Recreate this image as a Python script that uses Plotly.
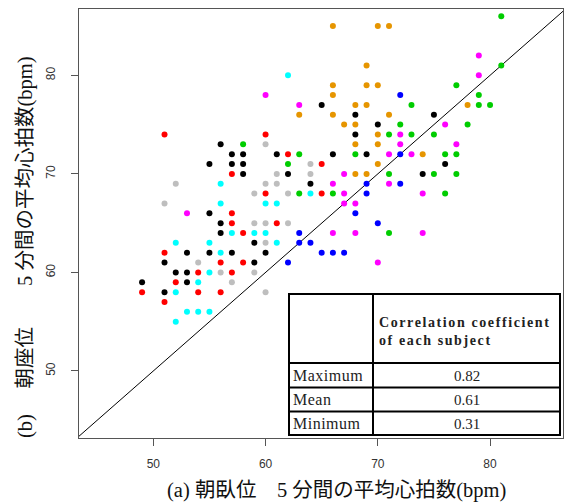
import plotly.graph_objects as go

# ---------------- data ----------------
black_x = [65, 56, 57, 58, 61, 66, 55, 57, 58, 58, 62, 64, 55, 56, 56, 59, 53, 55, 57, 60, 51, 59, 52, 53, 49, 53, 51, 68, 75, 70, 68, 69, 76, 74]
black_y = [77, 73, 72, 72, 72, 72, 71, 71, 71, 70, 70, 69, 66, 65, 64, 63, 62, 62, 62, 62, 61, 61, 60, 60, 59, 59, 58, 76, 76, 75, 74, 72, 71, 70]

red_x = [51, 60, 62, 65, 57, 60, 65, 57, 57, 61, 58, 51, 56, 58, 54, 57, 52, 49, 54, 56, 51]
red_y = [74, 74, 72, 71, 70, 68, 68, 66, 65, 65, 64, 62, 61, 61, 60, 60, 59, 58, 58, 58, 57]

green_x = [58, 63, 62, 63, 66, 81, 81, 77, 79, 73, 79, 80, 72, 78, 71, 73, 75, 68, 76, 77, 71, 75, 77, 76, 71]
green_y = [73, 72, 71, 68, 68, 86, 81, 79, 78, 77, 77, 77, 75, 75, 74, 74, 74, 72, 72, 72, 70, 70, 70, 68, 64]

gray_x = [60, 64, 61, 64, 52, 60, 61, 59, 62, 51, 59, 60, 62, 60, 54, 56, 59, 57, 60]
gray_y = [73, 71, 70, 70, 69, 69, 69, 68, 68, 67, 65, 65, 65, 63, 61, 60, 60, 59, 58]

cyan_x = [62, 56, 64, 56, 60, 61, 57, 59, 60, 52, 55, 61, 56, 55, 54, 52, 53, 54, 55, 52]
cyan_y = [80, 69, 68, 67, 67, 67, 64, 64, 64, 63, 63, 63, 62, 60, 59, 58, 56, 56, 56, 55]

magenta_x = [60, 63, 67, 66, 67, 67, 53, 66, 79, 79, 76, 72, 72, 77, 71, 73, 71, 74, 68, 68, 74, 70]
magenta_y = [78, 77, 70, 69, 68, 67, 66, 64, 82, 80, 75, 74, 73, 73, 72, 72, 69, 68, 67, 64, 64, 61]

blue_x = [63, 63, 64, 65, 66, 67, 62, 72, 72, 69, 72, 69, 68, 70]
blue_y = [64, 63, 63, 62, 62, 62, 61, 78, 72, 69, 69, 68, 66, 65]

orange_x = [66, 70, 71, 69, 66, 69, 70, 66, 63, 66, 71, 67, 68, 68, 69, 78, 70, 68, 70, 74, 70, 68, 69]
orange_y = [85, 85, 85, 81, 79, 79, 79, 78, 76, 76, 76, 75, 75, 77, 77, 77, 74, 73, 73, 72, 71, 70, 70]

x_ticks = [50, 60, 70, 80]
y_ticks = [50, 60, 70, 80]

table_rows = ["Maximum", "Mean", "Minimum"]
table_values = ["0.82", "0.61", "0.31"]
table_header = ["Correlation coefficient", "of each subject"]

x_title = "(a) 朝臥位　5 分間の平均心拍数(bpm)"
y_title = "(b)　 朝座位　　5 分間の平均心拍数(bpm)"

# ---------------- figure ----------------
W, H = 565, 504
ML, MR, MT, MB = 79, 2, 9, 66
PW, PH = W - ML - MR, H - MT - MB


def px(xp):
    return (xp - ML) / PW


def py(yp):
    return (H - MB - yp) / PH


series = [
    (gray_x, gray_y, "#BEBEBE"),
    (cyan_x, cyan_y, "#00FFFF"),
    (red_x, red_y, "#FF0000"),
    (black_x, black_y, "#000000"),
    (blue_x, blue_y, "#0000FF"),
    (magenta_x, magenta_y, "#FF00FF"),
    (green_x, green_y, "#00CD00"),
    (orange_x, orange_y, "#E69500"),
]

fig = go.Figure()
fig.add_trace(go.Scatter(x=[30, 100], y=[30, 100], mode="lines",
                         line=dict(color="black", width=1), hoverinfo="skip",
                         showlegend=False))
for xs, ys, col in series:
    fig.add_trace(go.Scatter(x=xs, y=ys, mode="markers",
                             marker=dict(color=col, size=6, line=dict(width=0)),
                             showlegend=False))

axis_common = dict(showgrid=False, zeroline=False, showline=True, mirror=True,
                   linecolor="#555555", linewidth=1, ticks="outside", ticklen=7,
                   tickcolor="#555555", tickwidth=1,
                   tickfont=dict(family="Liberation Sans, Arial", size=12, color="#333333"))

fig.update_layout(
    width=W, height=H,
    margin=dict(l=ML, r=MR, t=MT, b=MB),
    paper_bgcolor="white", plot_bgcolor="white",
    xaxis=dict(range=[43.38, 86.5], tickvals=x_ticks, ticklabelstandoff=8, **axis_common),
    yaxis=dict(range=[43.2, 86.73], tickvals=y_ticks, tickangle=-90,
               ticklabelstandoff=11, **axis_common),
)

# table
tl, tr, tt, tb = 289, 560, 294, 435
col_div = 373
hdr_b = 363
row_lines = [363, 387.5, 411.5]
fig.add_shape(type="rect", xref="paper", yref="paper",
              x0=px(tl), x1=px(tr), y0=py(tb), y1=py(tt),
              fillcolor="white", line=dict(color="black", width=2), layer="above")
fig.add_shape(type="line", xref="paper", yref="paper",
              x0=px(col_div), x1=px(col_div), y0=py(tb), y1=py(tt),
              line=dict(color="black", width=2), layer="above")
for yl in row_lines:
    fig.add_shape(type="line", xref="paper", yref="paper",
                  x0=px(tl), x1=px(tr), y0=py(yl), y1=py(yl),
                  line=dict(color="black", width=2), layer="above")

hdr_text = "<br>".join('<span style="letter-spacing:1.6px">' + t + "</span>" for t in table_header)
fig.add_annotation(xref="paper", yref="paper", x=px(377), y=py(331),
                   xanchor="left", yanchor="middle", showarrow=False, align="left",
                   text="<b>" + hdr_text + "</b>",
                   font=dict(family="Liberation Serif, Times New Roman", size=14, color="#222222"))
row_centers = [375.5, 399.5, 423.5]
for name, val, yc in zip(table_rows, table_values, row_centers):
    fig.add_annotation(xref="paper", yref="paper", x=px(291), y=py(yc),
                       xanchor="left", yanchor="middle", showarrow=False,
                       text='<span style="letter-spacing:0.5px">' + name + "</span>",
                       font=dict(family="Liberation Serif, Times New Roman", size=16, color="#222222"))
    fig.add_annotation(xref="paper", yref="paper", x=px((col_div + tr) / 2), y=py(yc),
                       xanchor="center", yanchor="middle", showarrow=False, text=val,
                       font=dict(family="Liberation Serif, Times New Roman", size=15, color="#222222"))

title_font = dict(family="Liberation Serif, Noto Sans CJK JP", size=20.5, color="#111111")
fig.add_annotation(xref="paper", yref="paper", x=px(336), y=py(491),
                   xanchor="center", yanchor="middle", showarrow=False,
                   text=x_title, font=title_font)
fig.add_annotation(xref="paper", yref="paper", x=px(25), y=py(247),
                   xanchor="center", yanchor="middle", showarrow=False, textangle=-90,
                   text=y_title, font=title_font)

fig.write_html("out.html", config={"displayModeBar": False},
               post_script="document.body.style.margin='0';document.body.style.overflow='hidden';")
